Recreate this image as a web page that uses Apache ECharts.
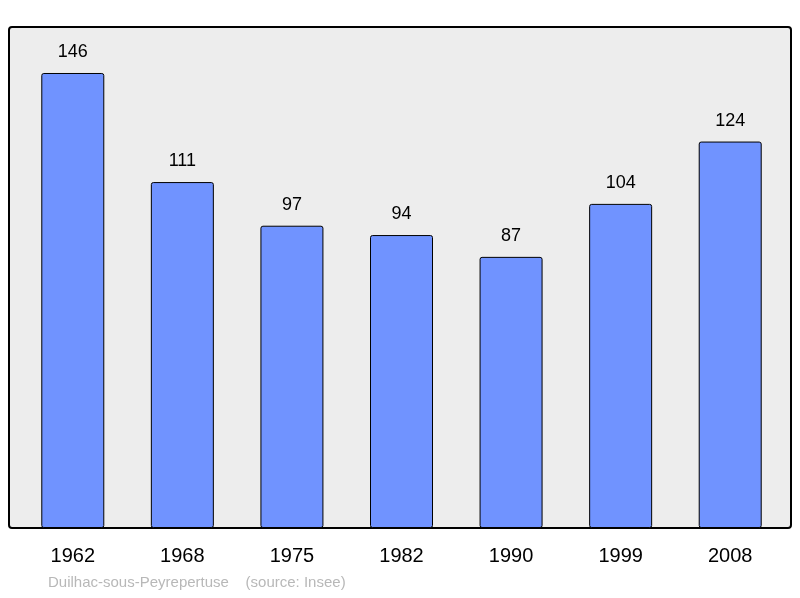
<!DOCTYPE html>
<html>
<head>
<meta charset="utf-8" />
<title>Duilhac-sous-Peyrepertuse</title>
<script src="https://cdn.jsdelivr.net/npm/echarts@6/dist/echarts.min.js"></script>
<style>
html, body { margin: 0; padding: 0; background: #fff; }
#chart { width: 800px; height: 598px; }
</style>
</head>
<body>
<div id="chart"></div>
<script>
var years = ['1962', '1968', '1975', '1982', '1990', '1999', '2008'];
var population = [146, 111, 97, 94, 87, 104, 124];

var myChart = echarts.init(document.getElementById('chart'));

var option = {
    animation: false,
    textStyle: { fontFamily: 'Liberation Sans, Arial, sans-serif' },
    graphic: [{
        type: 'rect',
        z: -10,
        shape: { x: 9, y: 27, width: 782, height: 501, r: 3 },
        style: { fill: '#ededed', stroke: '#000', lineWidth: 2 }
    }, {
        type: 'text',
        left: 48,
        top: 575,
        style: {
            text: 'Duilhac-sous-Peyrepertuse    (source: Insee)',
            fill: '#b8b8b8',
            font: '15px Liberation Sans, Arial, sans-serif'
        }
    }],
    grid: { left: 18, width: 767, top: 27, height: 501 },
    xAxis: {
        type: 'category',
        data: years,
        axisLine: { show: false },
        axisTick: { show: false },
        axisLabel: { color: '#000', fontSize: 20, margin: 18 }
    },
    yAxis: {
        type: 'value',
        min: 0,
        max: 160.76,
        show: false,
        splitLine: { show: false }
    },
    series: [{
        type: 'bar',
        data: population,
        barWidth: 63,
        itemStyle: {
            color: '#7093ff',
            borderColor: '#000',
            borderWidth: 1,
            borderRadius: 2
        },
        label: {
            show: true,
            position: 'top',
            distance: 12,
            color: '#000',
            fontSize: 18
        }
    }]
};

myChart.setOption(option);
</script>
</body>
</html>
